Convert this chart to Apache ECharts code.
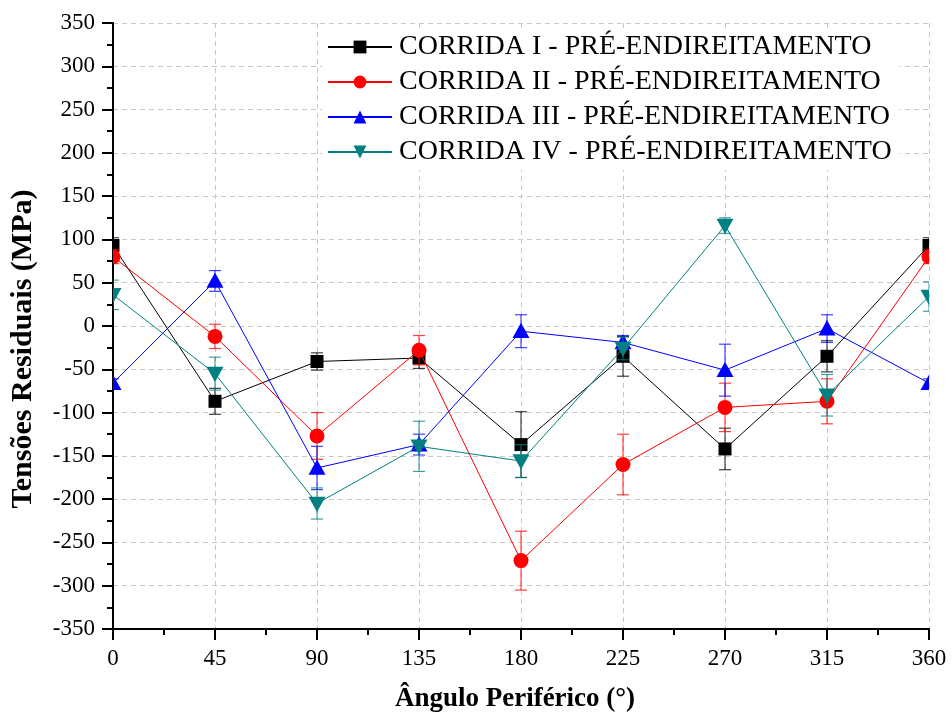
<!DOCTYPE html>
<html>
<head>
<meta charset="utf-8">
<script src="https://cdn.jsdelivr.net/npm/echarts@6/dist/echarts.min.js"></script>
<style>
  html, body { margin: 0; padding: 0; background: #fff; }
  #chart { width: 952px; height: 720px; }
</style>
</head>
<body>
<div id="chart"></div>
<script>
// ── 데이터 ─────────────────────────────────────
const angles = [0, 45, 90, 135, 180, 225, 270, 315, 360];

const runNames = [
  'CORRIDA I - PRÉ-ENDIREITAMENTO',
  'CORRIDA II - PRÉ-ENDIREITAMENTO',
  'CORRIDA III - PRÉ-ENDIREITAMENTO',
  'CORRIDA IV - PRÉ-ENDIREITAMENTO',
];

const corridaI   = [93, -87, -41, -37, -137, -35, -142, -35, 93];
const erroI      = [9, 15, 10, 12, 38, 23, 24, 18, 9];

const corridaII  = [80, -12, -127, -28, -271, -160, -94, -87, 80];
const erroII     = [8, 14, 27, 17, 34, 35, 28, 26, 8];

const corridaIII = [-66, 52, -164, -137, -6, -19, -51, -3, -66];
const erroIII    = [5, 12, 25, 12, 19, 8, 30, 16, 5];

const corridaIV  = [36, -55, -205, -139, -156, -26, 116, -80, 34];
const erroIV     = [17, 19, 18, 29, 19, 13, 9, 24, 17];

const xTicks = [0, 45, 90, 135, 180, 225, 270, 315, 360];
const yMin = -350, yMax = 350, yStep = 50;

// ── 스타일 ───────────────────────────────────────────
const FONT = '"Liberation Serif", "Times New Roman", serif';
const runs = [
  { name: runNames[0], values: corridaI,   errors: erroI,   color: '#000000', symbol: 'rect',     size: 13 },
  { name: runNames[1], values: corridaII,  errors: erroII,  color: '#ff0000', symbol: 'circle',   size: 15 },
  { name: runNames[2], values: corridaIII, errors: erroIII, color: '#0000ff', symbol: 'triangle', size: 17 },
  { name: runNames[3], values: corridaIV,  errors: erroIV,  color: '#008080', symbol: 'downTri',  size: 17 },
];

// 마커 + 오차막대 (custom series, 좌표계 밖은 잘림)
function markerRenderer(run) {
  return function (params, api) {
    const x = api.value(0), y = api.value(1), e = api.value(2);
    const p = api.coord([x, y]);
    const top = api.coord([x, y + e]);
    const bot = api.coord([x, y - e]);
    const cap = 6;
    const errStyle = { stroke: run.color, lineWidth: 1.2, opacity: 0.75 };
    const children = [
      { type: 'line', shape: { x1: top[0], y1: top[1], x2: bot[0], y2: bot[1] }, style: errStyle },
      { type: 'line', shape: { x1: top[0] - cap, y1: top[1], x2: top[0] + cap, y2: top[1] }, style: errStyle },
      { type: 'line', shape: { x1: bot[0] - cap, y1: bot[1], x2: bot[0] + cap, y2: bot[1] }, style: errStyle },
    ];
    const s = run.size, h = s / 2;
    const fill = { fill: run.color };
    if (run.symbol === 'rect') {
      children.push({ type: 'rect', shape: { x: p[0] - h, y: p[1] - h, width: s, height: s }, style: fill });
    } else if (run.symbol === 'circle') {
      children.push({ type: 'circle', shape: { cx: p[0], cy: p[1], r: h }, style: fill });
    } else if (run.symbol === 'triangle') {
      children.push({ type: 'polygon', shape: { points: [[p[0], p[1] - h], [p[0] + h, p[1] + h * 0.8], [p[0] - h, p[1] + h * 0.8]] }, style: fill });
    } else {
      children.push({ type: 'polygon', shape: { points: [[p[0], p[1] + h], [p[0] + h, p[1] - h * 0.8], [p[0] - h, p[1] - h * 0.8]] }, style: fill });
    }
    return { type: 'group', children };
  };
}

const series = [];
runs.forEach((run, i) => {
  series.push({
    name: run.name,
    type: 'line',
    data: angles.map((a, j) => [a, run.values[j]]),
    symbol: run.symbol === 'downTri' ? 'path://M0,0 L10,0 L5,9 Z' : run.symbol,
    showSymbol: false,
    lineStyle: { color: run.color, width: 1 },
    itemStyle: { color: run.color },
    z: 2 + i * 2,
    silent: true,
    animation: false,
  });
  series.push({
    name: run.name + ' err',
    type: 'custom',
    clip: true,
    data: angles.map((a, j) => [a, run.values[j], run.errors[j]]),
    renderItem: markerRenderer(run),
    z: 3 + i * 2,
    silent: true,
    animation: false,
  });
});

const axisBase = {
  axisLine: { show: true, onZero: false, lineStyle: { color: '#000', width: 2 } },
  axisTick: { show: true, inside: false, length: 11, lineStyle: { color: '#000', width: 2 } },
  minorTick: { show: true, splitNumber: 2, length: 6, lineStyle: { color: '#000', width: 2 } },
  splitLine: { show: true, lineStyle: { color: '#c8c8c8', type: [5, 4], width: 1 } },
  axisLabel: { color: '#000', fontFamily: FONT, fontSize: 23, margin: 18 },
  nameLocation: 'middle',
};

const chart = echarts.init(document.getElementById('chart'), null, { renderer: 'canvas' });
chart.setOption({
  backgroundColor: '#fff',
  animation: false,
  grid: { left: 113, right: 23, top: 23, bottom: 91, containLabel: false },
  xAxis: Object.assign({}, axisBase, {
    type: 'value',
    min: xTicks[0],
    max: xTicks[xTicks.length - 1],
    interval: xTicks[1] - xTicks[0],
    name: 'Ângulo Periférico (°)',
    nameGap: 57,
    nameTextStyle: { color: '#000', fontFamily: FONT, fontSize: 27, fontWeight: 'bold', padding: [0, 12, 0, 0] },
  }),
  yAxis: Object.assign({}, axisBase, {
    type: 'value',
    min: yMin,
    max: yMax,
    interval: yStep,
    name: 'Tensões Residuais (MPa)',
    nameGap: 75,
    nameTextStyle: { color: '#000', fontFamily: FONT, fontSize: 30, fontWeight: 'bold', padding: [0, 46, 0, 0] },
  }),
  legend: {
    data: runNames,
    orient: 'vertical',
    left: 322,
    top: 29,
    padding: [4, 8, 4, 5],
    backgroundColor: '#fff',
    itemWidth: 64,
    itemHeight: 16,
    itemGap: 7,
    selectedMode: false,
    textStyle: { color: '#000', fontFamily: FONT, fontSize: 28, lineHeight: 28, padding: [0, 0, 0, 2] },
    z: 20,
  },
  series,
});
</script>
</body>
</html>
